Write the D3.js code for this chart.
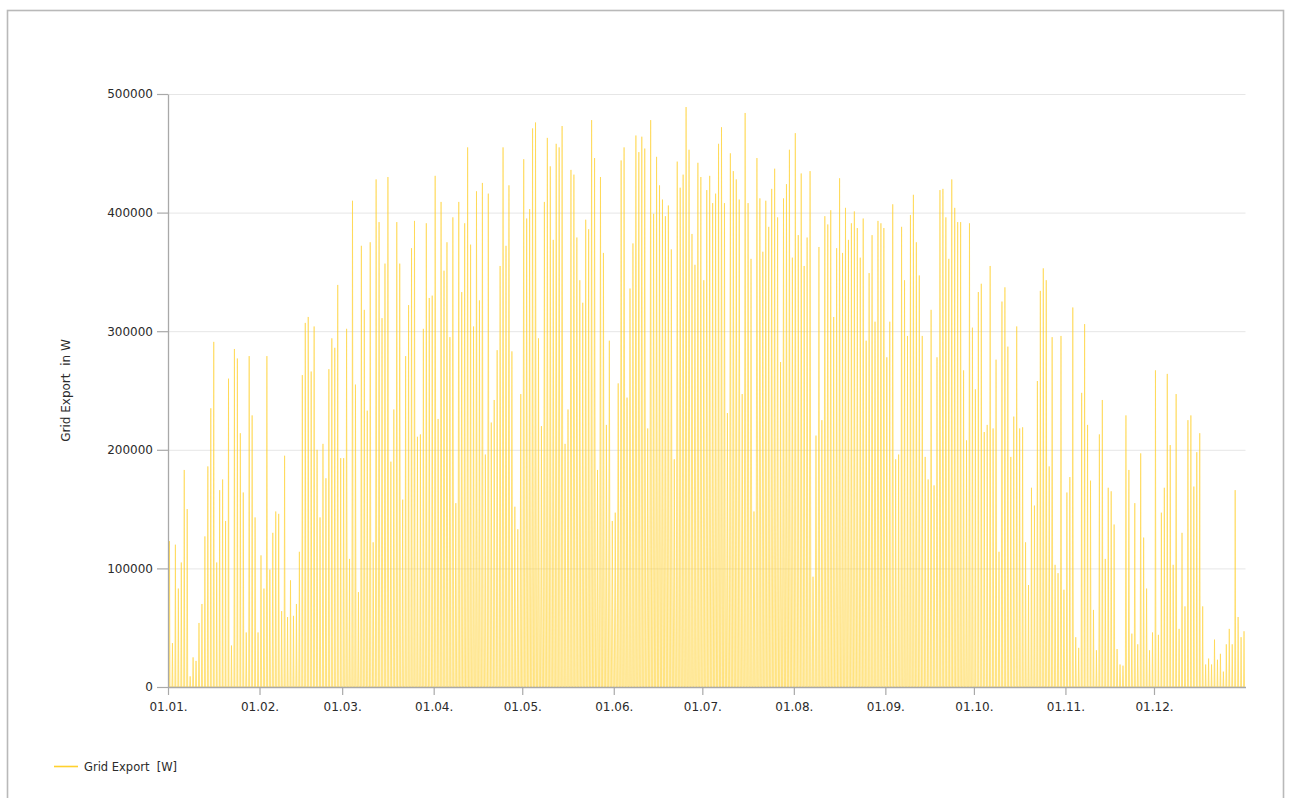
<!DOCTYPE html>
<html>
<head>
<meta charset="utf-8">
<script src="https://cdn.jsdelivr.net/npm/d3@7/dist/d3.min.js"></script>
<style>
  html, body { margin: 0; padding: 0; background: #fff; }
  svg { display: block; font-family: "DejaVu Sans", Verdana, sans-serif; }
</style>
</head>
<body>
<svg id="chart" width="1290" height="798"></svg>
<script>
// ---- data (daily peak grid export in W) ----
const seriesName = "Grid Export  [W]";
const yTitle = "Grid Export  in W";
const yTicks = [0, 100000, 200000, 300000, 400000, 500000];
const yearStart = Date.UTC(2023, 0, 1);
const yearEnd = Date.UTC(2024, 0, 1);
// approx. daylight hours per month (width of each daily spike)
const daylightHours = [8.5, 10, 11.8, 13.6, 15.2, 16.2, 15.8, 14.3, 12.5, 10.7, 9, 8];

const peaksJanFeb = [
  123000, 37000, 120000, 83000, 105000, 183000, 150000, 9000, 25000, 22000,
  54000, 70000, 127000, 186000, 235000, 291000, 105000, 166000, 175000, 140000,
  260000, 35000, 285000, 277000, 214000, 164000, 46000, 279000, 229000, 143000,
  46000, 111000, 83000, 279000, 99000, 130000, 148000, 146000, 64000, 195000,
  59000, 90000, 60000, 70000, 114000, 263000, 307000, 312000, 266000, 304000,
  200000, 143000, 205000, 176000, 268000, 294000, 286000, 339000, 193000, 193000
];
const peaksMarApr = [
  302000, 108000, 410000, 255000, 80000, 372000, 318000, 233000, 375000, 122000,
  428000, 392000, 311000, 357000, 430000, 190000, 234000, 392000, 357000, 158000,
  279000, 322000, 370000, 393000, 211000, 213000, 302000, 391000, 328000, 330000,
  431000, 226000, 409000, 351000, 375000, 295000, 396000, 155000, 409000, 333000,
  391000, 455000, 373000, 304000, 418000, 326000, 425000, 196000, 416000, 223000,
  242000, 284000, 355000, 455000, 372000, 423000, 283000, 152000, 133000, 247000,
  445000
];
const peaksMayJun = [
  395000, 403000, 471000, 476000, 294000, 220000, 409000, 463000, 439000, 377000,
  458000, 455000, 473000, 205000, 234000, 436000, 432000, 379000, 343000, 324000,
  394000, 386000, 478000, 446000, 183000, 430000, 366000, 221000, 292000, 140000,
  147000, 256000, 444000, 455000, 244000, 336000, 374000, 465000, 451000, 464000,
  454000, 218000, 478000, 399000, 447000, 423000, 411000, 397000, 406000, 369000,
  192000, 443000, 421000, 432000, 489000, 453000, 382000, 356000, 442000, 430000,
  343000
];
const peaksJulAug = [
  419000, 431000, 408000, 416000, 458000, 472000, 408000, 231000, 450000, 435000,
  428000, 411000, 247000, 484000, 408000, 361000, 148000, 446000, 412000, 367000,
  410000, 388000, 420000, 437000, 396000, 274000, 412000, 424000, 453000, 362000,
  467000, 381000, 433000, 355000, 379000, 435000, 93000, 212000, 371000, 225000,
  397000, 390000, 402000, 312000, 370000, 429000, 366000, 404000, 377000, 391000,
  401000, 387000, 362000, 395000, 292000, 349000, 381000, 308000, 393000, 391000,
  387000
];
const peaksSepOct = [
  278000, 308000, 407000, 192000, 196000, 388000, 343000, 296000, 398000, 415000,
  375000, 347000, 296000, 194000, 175000, 318000, 170000, 278000, 419000, 420000,
  396000, 361000, 428000, 404000, 392000, 392000, 267000, 208000, 391000, 303000,
  251000, 333000, 340000, 215000, 221000, 355000, 218000, 276000, 114000, 325000,
  337000, 287000, 194000, 228000, 304000, 218000, 219000, 122000, 86000, 168000,
  153000, 258000, 334000, 353000, 343000, 186000, 295000, 103000, 96000, 296000,
  82000
];
const peaksNovDec = [
  164000, 177000, 320000, 42000, 33000, 248000, 306000, 221000, 174000, 65000,
  31000, 213000, 242000, 108000, 168000, 165000, 137000, 32000, 19000, 18000,
  229000, 183000, 45000, 155000, 36000, 197000, 126000, 83000, 31000, 46000,
  267000, 44000, 147000, 168000, 264000, 204000, 103000, 247000, 49000, 130000,
  68000, 225000, 229000, 169000, 198000, 214000, 68000, 19000, 24000, 19000,
  40000, 23000, 28000, 13000, 36000, 49000, 36000, 166000, 59000, 42000,
  47000
];
const dailyPeaks = [].concat(peaksJanFeb, peaksMarApr, peaksMayJun, peaksJulAug, peaksSepOct, peaksNovDec);

// ---- drawing ----
const DAY = 86400000;
const svg = d3.select("#chart");
const plotLeft = 168, plotRight = 1245.5, plotTop = 94, plotBottom = 687;
const lineColor = "#FFD12E";

const x = d3.scaleUtc().domain([yearStart, yearEnd]).range([plotLeft, plotRight]);
const y = d3.scaleLinear().domain([0, 500000]).range([plotBottom, plotTop]);

// outer frame
svg.append("rect")
  .attr("x", 7.5).attr("y", 10.5).attr("width", 1276).attr("height", 820)
  .attr("fill", "none").attr("stroke", "#B9B9B9").attr("stroke-width", 1.6);

// gridlines
svg.append("g").selectAll("line").data(yTicks.filter(d => d > 0)).join("line")
  .attr("x1", plotLeft).attr("x2", plotRight)
  .attr("y1", d => y(d) + 0.5).attr("y2", d => y(d) + 0.5)
  .attr("stroke", "#E6E6E6").attr("stroke-width", 1);

// build spike points for each day
const pts = [];
dailyPeaks.forEach((v, i) => {
  const t0 = yearStart + i * DAY;
  const m = new Date(t0).getUTCMonth();
  const half = daylightHours[m] / 24 / 2;
  pts.push({ t: t0 + (0.5 - half) * DAY, v: 0 });
  pts.push({ t: t0 + 0.5 * DAY, v: v });
  pts.push({ t: t0 + (0.5 + half) * DAY, v: 0 });
});

const area = d3.area().x(d => x(d.t)).y0(y(0)).y1(d => y(d.v));
const line = d3.line().x(d => x(d.t)).y(d => y(d.v));

const plot = svg.append("g");
plot.append("path").attr("d", area(pts))
  .attr("fill", lineColor).attr("fill-opacity", 0.28).attr("stroke", "none");
plot.append("path").attr("d", line(pts))
  .attr("fill", "none").attr("stroke", lineColor).attr("stroke-width", 0.8)
  .attr("stroke-opacity", 0.7);

// axes
const yAxis = d3.axisLeft(y).tickValues(yTicks).tickSize(11).tickSizeOuter(0)
  .tickPadding(4).tickFormat(d3.format("d"));
const gy = svg.append("g").attr("transform", `translate(${plotLeft},0)`).call(yAxis);

const monthStarts = d3.utcMonths(yearStart, yearEnd);
const xAxis = d3.axisBottom(x).tickValues(monthStarts).tickSize(8).tickSizeOuter(0)
  .tickPadding(7).tickFormat(d3.utcFormat("%d.%m."));
const gx = svg.append("g").attr("transform", `translate(0,${plotBottom})`).call(xAxis);

[gx, gy].forEach(g => {
  g.select(".domain").attr("stroke", "#A9A9A9").attr("stroke-width", 1.3);
  g.selectAll(".tick line").attr("stroke", "#A9A9A9").attr("stroke-width", 1.2);
  g.selectAll(".tick text").attr("fill", "#2b2b2b").style("font-size", "12px")
    .style("font-family", "'DejaVu Sans', Verdana, sans-serif");
});

// y-axis title
svg.append("text")
  .attr("transform", `translate(70,${(plotTop + plotBottom) / 2}) rotate(-90)`)
  .attr("text-anchor", "middle")
  .attr("fill", "#2b2b2b").style("font-size", "12px").style("white-space", "pre")
  .text(yTitle);

// legend
svg.append("line").attr("x1", 54).attr("x2", 78).attr("y1", 766.5).attr("y2", 766.5)
  .attr("stroke", lineColor).attr("stroke-width", 1.6);
svg.append("text").attr("x", 84).attr("y", 770.5)
  .attr("fill", "#2b2b2b").style("font-size", "11.5px").style("white-space", "pre")
  .text(seriesName);
</script>
</body>
</html>
